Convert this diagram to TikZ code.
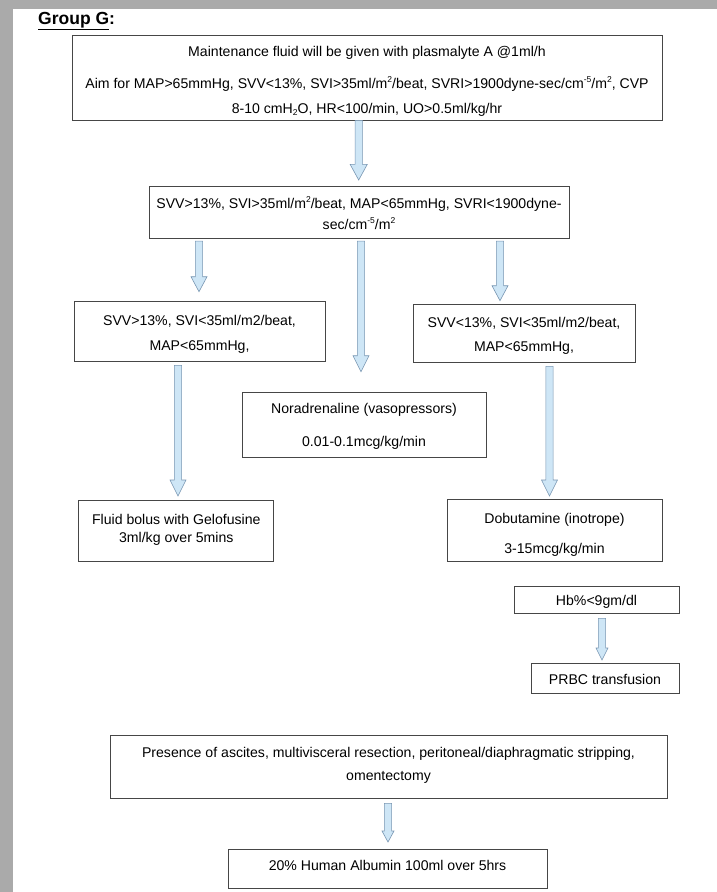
\documentclass[tikz,border=0pt]{standalone}
\usepackage{fontspec}
\setmainfont{Liberation Sans}
\usetikzlibrary{calc}
\definecolor{pagegray}{RGB}{170,170,170}
\definecolor{boxline}{RGB}{70,70,70}
\definecolor{arrfill}{RGB}{206,230,246}
\definecolor{arrline}{RGB}{120,150,178}
\newcommand{\boxfont}{\fontsize{14.1}{16.5}\selectfont}
\newcommand{\sups}[1]{\raisebox{0.42em}{\fontsize{8.5}{9}\selectfont #1}}
\newcommand{\subs}[1]{\raisebox{-0.15em}{\fontsize{8.5}{9}\selectfont #1}}
% #1 start (box side), #2 tip coordinate, #3 gap, #4 half head width, #5 head length
\newcommand{\blockarrow}[5]{%
  \draw[arrowbody] let \p1=#1, \p2=#2 in
   (\x1-3.6pt,\y1-#3) -- (\x1-3.6pt,\y2+#5) -- (\x1-#4,\y2+#5) -- (\x1,\y2)
   -- (\x1+#4,\y2+#5) -- (\x1+3.6pt,\y2+#5) -- (\x1+3.6pt,\y1-#3) -- cycle;}
\begin{document}
\begin{tikzpicture}[x=1pt,y=-1pt,
  box/.style={draw=boxline, line width=0.8pt, fill=white, inner sep=0pt},
  boxtext/.style={align=center, inner sep=0pt, font=\boxfont},
  arrowbody/.style={draw=arrline, fill=arrfill, line width=0.6pt, line join=miter}]
\useasboundingbox (0,0) rectangle (717,892);
\fill[pagegray] (0,0) rectangle (717,892);
\fill[white] (13,9) rectangle (717,892);

\node[anchor=base west, inner sep=0pt, font=\fontsize{17.5}{20}\bfseries\selectfont]
  (title) at (38,24.5) {\underline{Group G}:};

% frames
\node[box, minimum width=590pt, minimum height=85pt] (T) at (367,77.5) {};
\node[box, minimum width=420pt, minimum height=52pt] (S) at (359,212) {};
\node[box, minimum width=251pt, minimum height=60pt] (L) at (199.5,331) {};
\node[box, minimum width=222pt, minimum height=58pt] (R) at (524,333) {};
\node[box, minimum width=244pt, minimum height=65pt] (N) at (364,424.5) {};
\node[box, minimum width=195pt, minimum height=61pt] (F) at (176.3,530.5) {};
\node[box, minimum width=215pt, minimum height=62pt] (D) at (554.5,530) {};
\node[box, minimum width=165pt, minimum height=27pt] (H) at (596.5,599.5) {};
\node[box, minimum width=148pt, minimum height=30pt] (P) at (605,678) {};
\node[box, minimum width=557pt, minimum height=63pt] (Pr) at (388.5,766.5) {};
\node[box, minimum width=319pt, minimum height=39pt] (A) at (387.5,868.5) {};

% texts
\node[boxtext] (Tt) at (T.center |- 0,81)
  {Maintenance fluid will be given with plasmalyte A @1ml/h\\[15.5pt]
   Aim for MAP>65mmHg, SVV<13\%, SVI>35ml/m\sups{2}/beat, SVRI>1900dyne-sec/cm\sups{-5}/m\sups{2}, CVP\\[8.5pt]
   8-10 cmH\subs{2}O, HR<100/min, UO>0.5ml/kg/hr};
\node[boxtext] (St) at (S.center |- 0,213.2)
  {SVV>13\%, SVI>35ml/m\sups{2}/beat, MAP<65mmHg, SVRI<1900dyne-\\[5pt]
   sec/cm\sups{-5}/m\sups{2}};
\node[boxtext] (Lt) at (L.center |- 0,334)
  {SVV>13\%, SVI<35ml/m2/beat,\\[8.5pt] MAP<65mmHg,};
\node[boxtext] (Rt) at (R.center |- 0,335.5)
  {SVV<13\%, SVI<35ml/m2/beat,\\[7.5pt] MAP<65mmHg,};
\node[boxtext] (Nt) at (N.center |- 0,426)
  {Noradrenaline (vasopressors)\\[16.5pt] 0.01-0.1mcg/kg/min};
\node[boxtext] (Ft) at (F.center |- 0,529.5)
  {Fluid bolus with Gelofusine\\[1.5pt] 3ml/kg over 5mins};
\node[boxtext] (Dt) at (D.center |- 0,534.5)
  {Dobutamine (inotrope)\\[13.5pt] 3-15mcg/kg/min};
\node[boxtext] (Ht) at (H.center |- 0,601.4) {Hb\%<9gm/dl};
\node[boxtext] (Pt) at (P.center |- 0,679) {PRBC transfusion};
\node[boxtext] (Prt) at (Pr.center |- 0,765)
  {Presence of ascites, multivisceral resection, peritoneal/diaphragmatic stripping,\\[6.5pt]
   omentectomy};
\node[boxtext] (At) at (A.center |- 0,865) {20\% Human Albumin 100ml over 5hrs};

% arrow tips
\coordinate (t1) at (358.7,180);
\coordinate (t2) at (199,291.7);
\coordinate (t3) at (361,371.7);
\coordinate (t4) at (500,300.7);
\coordinate (t5) at (178,496);
\coordinate (t6) at (549.5,496);
\coordinate (t7) at (602,660);
\coordinate (t8) at (388,842);

\blockarrow{(T.south -| t1)}{(t1)}{0pt}{8.6pt}{15.7pt}
\blockarrow{(S.south -| t2)}{(t2)}{2.7pt}{8pt}{15pt}
\blockarrow{(S.south -| t3)}{(t3)}{2.7pt}{8pt}{16pt}
\blockarrow{(S.south -| t4)}{(t4)}{2.7pt}{8pt}{15pt}
\blockarrow{(L.south -| t5)}{(t5)}{4pt}{8pt}{16pt}
\blockarrow{(R.south -| t6)}{(t6)}{4pt}{8pt}{16pt}
\blockarrow{(H.south -| t7)}{(t7)}{5pt}{6pt}{12pt}
\blockarrow{(Pr.south -| t8)}{(t8)}{5pt}{6pt}{11pt}
\end{tikzpicture}
\end{document}
